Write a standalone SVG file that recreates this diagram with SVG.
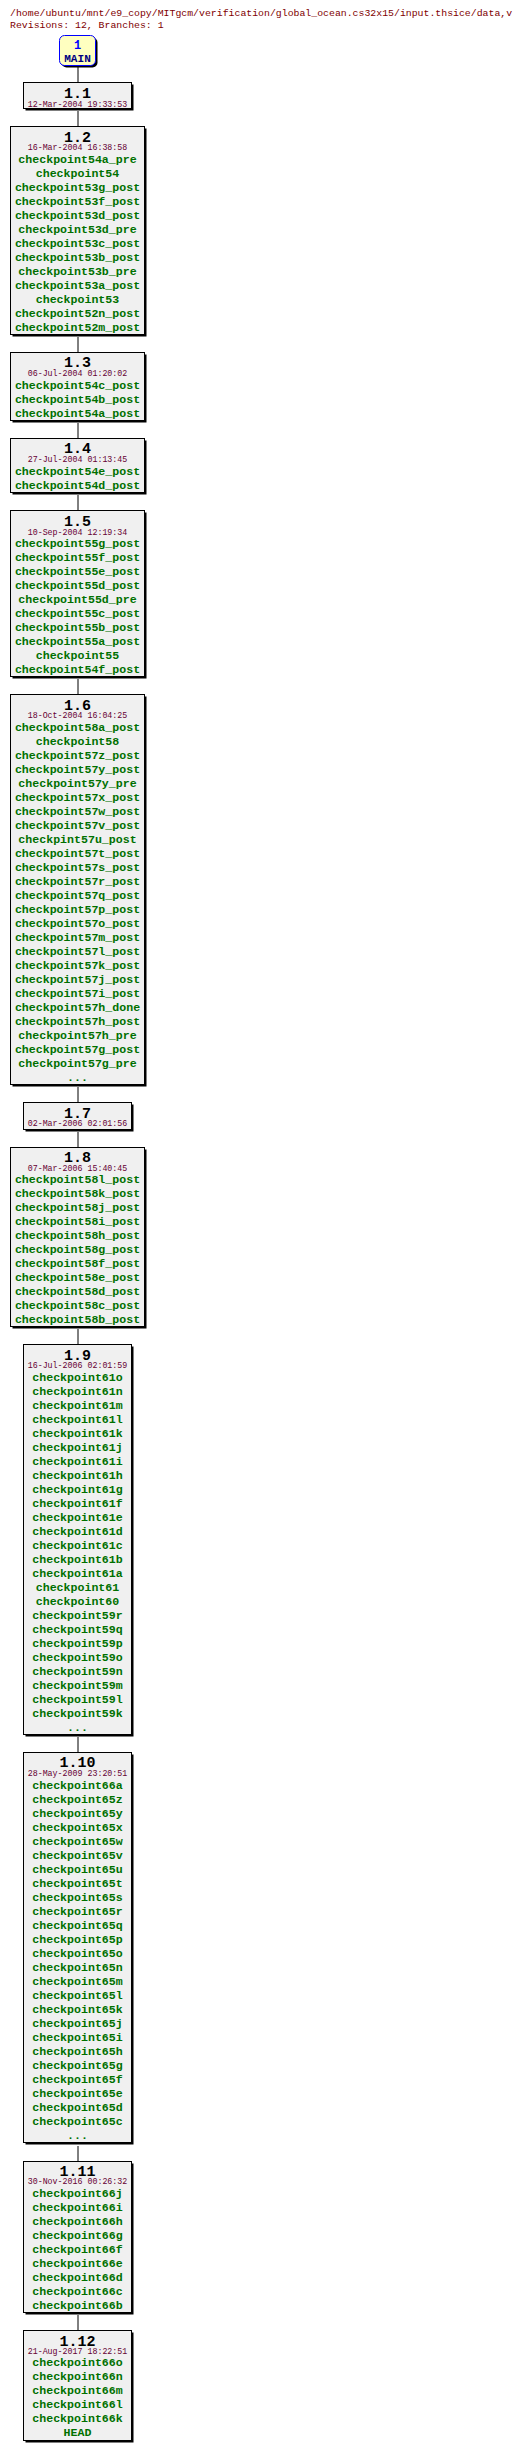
<svg xmlns="http://www.w3.org/2000/svg" width="530" height="2453" viewBox="0 0 530 2453">
<style>
.hdr{font-family:"Liberation Mono",monospace;font-size:9.85px;fill:#800000}
.box{fill:#f0f0f0;stroke:#000;stroke-width:1}
.sh{fill:#000}
.ttl{font-family:"Liberation Mono",monospace;font-size:15px;font-weight:bold;fill:#000;text-anchor:middle}
.dt{font-family:"Liberation Mono",monospace;font-size:8.3px;fill:#660033;text-anchor:middle}
.tg{font-family:"Liberation Mono",monospace;font-size:11.6px;font-weight:bold;fill:#007000;text-anchor:middle}
.ln{stroke:#000;stroke-width:1;fill:none}
</style>
<text class="hdr" x="10" y="16">/home/ubuntu/mnt/e9_copy/MITgcm/verification/global_ocean.cs32x15/input.thsice/data,v</text>
<text class="hdr" x="10" y="28">Revisions: 12, Branches: 1</text>
<g id="connectors">
<line class="ln" x1="78" y1="67" x2="78" y2="83"/>
<line class="ln" x1="78" y1="111" x2="78" y2="127"/>
<line class="ln" x1="78" y1="337" x2="78" y2="353"/>
<line class="ln" x1="78" y1="423" x2="78" y2="439"/>
<line class="ln" x1="78" y1="495" x2="78" y2="511"/>
<line class="ln" x1="78" y1="679" x2="78" y2="695"/>
<line class="ln" x1="78" y1="1087" x2="78" y2="1103"/>
<line class="ln" x1="78" y1="1132" x2="78" y2="1148"/>
<line class="ln" x1="78" y1="1329" x2="78" y2="1345"/>
<line class="ln" x1="78" y1="1737" x2="78" y2="1753"/>
<line class="ln" x1="78" y1="2146" x2="78" y2="2162"/>
<line class="ln" x1="78" y1="2315" x2="78" y2="2331"/>
</g>
<g id="MAIN">
<rect x="61.5" y="37.5" width="36" height="30" rx="5" fill="#000"/>
<rect x="59.5" y="35.5" width="36" height="30" rx="5" fill="#ffffc0" stroke="#0000ff" stroke-width="1"/>
<text x="77.5" y="48.5" style="font-family:'Liberation Mono',monospace;font-size:12px;font-weight:bold;fill:#0000ff;text-anchor:middle">1</text>
<text x="77.5" y="62" style="font-family:'Liberation Mono',monospace;font-size:11.1px;font-weight:bold;fill:#000080;text-anchor:middle">MAIN</text>
</g>
<g id="r1.1">
<rect class="sh" x="25.5" y="84.5" width="108" height="26"/>
<rect class="box" x="23.5" y="82.5" width="108" height="26"/>
<text class="ttl" x="77.5" y="98">1.1</text>
<text class="dt" x="77.5" y="107">12-Mar-2004 19:33:53</text>
</g>
<g id="r1.2">
<rect class="sh" x="12.5" y="128.5" width="134" height="208"/>
<rect class="box" x="10.5" y="126.5" width="134" height="208"/>
<text class="ttl" x="77.5" y="142">1.2</text>
<text class="dt" x="77.5" y="150">16-Mar-2004 16:38:58</text>
<text class="tg" x="77.5" y="163">checkpoint54a_pre</text>
<text class="tg" x="77.5" y="177">checkpoint54</text>
<text class="tg" x="77.5" y="191">checkpoint53g_post</text>
<text class="tg" x="77.5" y="205">checkpoint53f_post</text>
<text class="tg" x="77.5" y="219">checkpoint53d_post</text>
<text class="tg" x="77.5" y="233">checkpoint53d_pre</text>
<text class="tg" x="77.5" y="247">checkpoint53c_post</text>
<text class="tg" x="77.5" y="261">checkpoint53b_post</text>
<text class="tg" x="77.5" y="275">checkpoint53b_pre</text>
<text class="tg" x="77.5" y="289">checkpoint53a_post</text>
<text class="tg" x="77.5" y="303">checkpoint53</text>
<text class="tg" x="77.5" y="317">checkpoint52n_post</text>
<text class="tg" x="77.5" y="331">checkpoint52m_post</text>
</g>
<g id="r1.3">
<rect class="sh" x="12.5" y="354.5" width="134" height="68"/>
<rect class="box" x="10.5" y="352.5" width="134" height="68"/>
<text class="ttl" x="77.5" y="367">1.3</text>
<text class="dt" x="77.5" y="376">06-Jul-2004 01:20:02</text>
<text class="tg" x="77.5" y="389">checkpoint54c_post</text>
<text class="tg" x="77.5" y="403">checkpoint54b_post</text>
<text class="tg" x="77.5" y="417">checkpoint54a_post</text>
</g>
<g id="r1.4">
<rect class="sh" x="12.5" y="440.5" width="134" height="54"/>
<rect class="box" x="10.5" y="438.5" width="134" height="54"/>
<text class="ttl" x="77.5" y="453">1.4</text>
<text class="dt" x="77.5" y="462">27-Jul-2004 01:13:45</text>
<text class="tg" x="77.5" y="475">checkpoint54e_post</text>
<text class="tg" x="77.5" y="489">checkpoint54d_post</text>
</g>
<g id="r1.5">
<rect class="sh" x="12.5" y="512.5" width="134" height="166"/>
<rect class="box" x="10.5" y="510.5" width="134" height="166"/>
<text class="ttl" x="77.5" y="526">1.5</text>
<text class="dt" x="77.5" y="535">10-Sep-2004 12:19:34</text>
<text class="tg" x="77.5" y="547">checkpoint55g_post</text>
<text class="tg" x="77.5" y="561">checkpoint55f_post</text>
<text class="tg" x="77.5" y="575">checkpoint55e_post</text>
<text class="tg" x="77.5" y="589">checkpoint55d_post</text>
<text class="tg" x="77.5" y="603">checkpoint55d_pre</text>
<text class="tg" x="77.5" y="617">checkpoint55c_post</text>
<text class="tg" x="77.5" y="631">checkpoint55b_post</text>
<text class="tg" x="77.5" y="645">checkpoint55a_post</text>
<text class="tg" x="77.5" y="659">checkpoint55</text>
<text class="tg" x="77.5" y="673">checkpoint54f_post</text>
</g>
<g id="r1.6">
<rect class="sh" x="12.5" y="696.5" width="134" height="390"/>
<rect class="box" x="10.5" y="694.5" width="134" height="390"/>
<text class="ttl" x="77.5" y="710">1.6</text>
<text class="dt" x="77.5" y="718">18-Oct-2004 16:04:25</text>
<text class="tg" x="77.5" y="731">checkpoint58a_post</text>
<text class="tg" x="77.5" y="745">checkpoint58</text>
<text class="tg" x="77.5" y="759">checkpoint57z_post</text>
<text class="tg" x="77.5" y="773">checkpoint57y_post</text>
<text class="tg" x="77.5" y="787">checkpoint57y_pre</text>
<text class="tg" x="77.5" y="801">checkpoint57x_post</text>
<text class="tg" x="77.5" y="815">checkpoint57w_post</text>
<text class="tg" x="77.5" y="829">checkpoint57v_post</text>
<text class="tg" x="77.5" y="843">checkpint57u_post</text>
<text class="tg" x="77.5" y="857">checkpoint57t_post</text>
<text class="tg" x="77.5" y="871">checkpoint57s_post</text>
<text class="tg" x="77.5" y="885">checkpoint57r_post</text>
<text class="tg" x="77.5" y="899">checkpoint57q_post</text>
<text class="tg" x="77.5" y="913">checkpoint57p_post</text>
<text class="tg" x="77.5" y="927">checkpoint57o_post</text>
<text class="tg" x="77.5" y="941">checkpoint57m_post</text>
<text class="tg" x="77.5" y="955">checkpoint57l_post</text>
<text class="tg" x="77.5" y="969">checkpoint57k_post</text>
<text class="tg" x="77.5" y="983">checkpoint57j_post</text>
<text class="tg" x="77.5" y="997">checkpoint57i_post</text>
<text class="tg" x="77.5" y="1011">checkpoint57h_done</text>
<text class="tg" x="77.5" y="1025">checkpoint57h_post</text>
<text class="tg" x="77.5" y="1039">checkpoint57h_pre</text>
<text class="tg" x="77.5" y="1053">checkpoint57g_post</text>
<text class="tg" x="77.5" y="1067">checkpoint57g_pre</text>
<text class="tg" x="77.5" y="1081">...</text>
</g>
<g id="r1.7">
<rect class="sh" x="25.5" y="1104.5" width="108" height="27"/>
<rect class="box" x="23.5" y="1102.5" width="108" height="27"/>
<text class="ttl" x="77.5" y="1118">1.7</text>
<text class="dt" x="77.5" y="1126">02-Mar-2006 02:01:56</text>
</g>
<g id="r1.8">
<rect class="sh" x="12.5" y="1149.5" width="134" height="179"/>
<rect class="box" x="10.5" y="1147.5" width="134" height="179"/>
<text class="ttl" x="77.5" y="1162">1.8</text>
<text class="dt" x="77.5" y="1171">07-Mar-2006 15:40:45</text>
<text class="tg" x="77.5" y="1183">checkpoint58l_post</text>
<text class="tg" x="77.5" y="1197">checkpoint58k_post</text>
<text class="tg" x="77.5" y="1211">checkpoint58j_post</text>
<text class="tg" x="77.5" y="1225">checkpoint58i_post</text>
<text class="tg" x="77.5" y="1239">checkpoint58h_post</text>
<text class="tg" x="77.5" y="1253">checkpoint58g_post</text>
<text class="tg" x="77.5" y="1267">checkpoint58f_post</text>
<text class="tg" x="77.5" y="1281">checkpoint58e_post</text>
<text class="tg" x="77.5" y="1295">checkpoint58d_post</text>
<text class="tg" x="77.5" y="1309">checkpoint58c_post</text>
<text class="tg" x="77.5" y="1323">checkpoint58b_post</text>
</g>
<g id="r1.9">
<rect class="sh" x="25.5" y="1346.5" width="108" height="390"/>
<rect class="box" x="23.5" y="1344.5" width="108" height="390"/>
<text class="ttl" x="77.5" y="1360">1.9</text>
<text class="dt" x="77.5" y="1368">16-Jul-2006 02:01:59</text>
<text class="tg" x="77.5" y="1381">checkpoint61o</text>
<text class="tg" x="77.5" y="1395">checkpoint61n</text>
<text class="tg" x="77.5" y="1409">checkpoint61m</text>
<text class="tg" x="77.5" y="1423">checkpoint61l</text>
<text class="tg" x="77.5" y="1437">checkpoint61k</text>
<text class="tg" x="77.5" y="1451">checkpoint61j</text>
<text class="tg" x="77.5" y="1465">checkpoint61i</text>
<text class="tg" x="77.5" y="1479">checkpoint61h</text>
<text class="tg" x="77.5" y="1493">checkpoint61g</text>
<text class="tg" x="77.5" y="1507">checkpoint61f</text>
<text class="tg" x="77.5" y="1521">checkpoint61e</text>
<text class="tg" x="77.5" y="1535">checkpoint61d</text>
<text class="tg" x="77.5" y="1549">checkpoint61c</text>
<text class="tg" x="77.5" y="1563">checkpoint61b</text>
<text class="tg" x="77.5" y="1577">checkpoint61a</text>
<text class="tg" x="77.5" y="1591">checkpoint61</text>
<text class="tg" x="77.5" y="1605">checkpoint60</text>
<text class="tg" x="77.5" y="1619">checkpoint59r</text>
<text class="tg" x="77.5" y="1633">checkpoint59q</text>
<text class="tg" x="77.5" y="1647">checkpoint59p</text>
<text class="tg" x="77.5" y="1661">checkpoint59o</text>
<text class="tg" x="77.5" y="1675">checkpoint59n</text>
<text class="tg" x="77.5" y="1689">checkpoint59m</text>
<text class="tg" x="77.5" y="1703">checkpoint59l</text>
<text class="tg" x="77.5" y="1717">checkpoint59k</text>
<text class="tg" x="77.5" y="1731">...</text>
</g>
<g id="r1.10">
<rect class="sh" x="25.5" y="1754.5" width="108" height="390"/>
<rect class="box" x="23.5" y="1752.5" width="108" height="390"/>
<text class="ttl" x="77.5" y="1767">1.10</text>
<text class="dt" x="77.5" y="1776">28-May-2009 23:20:51</text>
<text class="tg" x="77.5" y="1789">checkpoint66a</text>
<text class="tg" x="77.5" y="1803">checkpoint65z</text>
<text class="tg" x="77.5" y="1817">checkpoint65y</text>
<text class="tg" x="77.5" y="1831">checkpoint65x</text>
<text class="tg" x="77.5" y="1845">checkpoint65w</text>
<text class="tg" x="77.5" y="1859">checkpoint65v</text>
<text class="tg" x="77.5" y="1873">checkpoint65u</text>
<text class="tg" x="77.5" y="1887">checkpoint65t</text>
<text class="tg" x="77.5" y="1901">checkpoint65s</text>
<text class="tg" x="77.5" y="1915">checkpoint65r</text>
<text class="tg" x="77.5" y="1929">checkpoint65q</text>
<text class="tg" x="77.5" y="1943">checkpoint65p</text>
<text class="tg" x="77.5" y="1957">checkpoint65o</text>
<text class="tg" x="77.5" y="1971">checkpoint65n</text>
<text class="tg" x="77.5" y="1985">checkpoint65m</text>
<text class="tg" x="77.5" y="1999">checkpoint65l</text>
<text class="tg" x="77.5" y="2013">checkpoint65k</text>
<text class="tg" x="77.5" y="2027">checkpoint65j</text>
<text class="tg" x="77.5" y="2041">checkpoint65i</text>
<text class="tg" x="77.5" y="2055">checkpoint65h</text>
<text class="tg" x="77.5" y="2069">checkpoint65g</text>
<text class="tg" x="77.5" y="2083">checkpoint65f</text>
<text class="tg" x="77.5" y="2097">checkpoint65e</text>
<text class="tg" x="77.5" y="2111">checkpoint65d</text>
<text class="tg" x="77.5" y="2125">checkpoint65c</text>
<text class="tg" x="77.5" y="2139">...</text>
</g>
<g id="r1.11">
<rect class="sh" x="25.5" y="2163.5" width="108" height="151"/>
<rect class="box" x="23.5" y="2161.5" width="108" height="151"/>
<text class="ttl" x="77.5" y="2176">1.11</text>
<text class="dt" x="77.5" y="2184">30-Nov-2016 00:26:32</text>
<text class="tg" x="77.5" y="2197">checkpoint66j</text>
<text class="tg" x="77.5" y="2211">checkpoint66i</text>
<text class="tg" x="77.5" y="2225">checkpoint66h</text>
<text class="tg" x="77.5" y="2239">checkpoint66g</text>
<text class="tg" x="77.5" y="2253">checkpoint66f</text>
<text class="tg" x="77.5" y="2267">checkpoint66e</text>
<text class="tg" x="77.5" y="2281">checkpoint66d</text>
<text class="tg" x="77.5" y="2295">checkpoint66c</text>
<text class="tg" x="77.5" y="2309">checkpoint66b</text>
</g>
<g id="r1.12">
<rect class="sh" x="25.5" y="2332.5" width="108" height="110"/>
<rect class="box" x="23.5" y="2330.5" width="108" height="110"/>
<text class="ttl" x="77.5" y="2346">1.12</text>
<text class="dt" x="77.5" y="2354">21-Aug-2017 18:22:51</text>
<text class="tg" x="77.5" y="2366">checkpoint66o</text>
<text class="tg" x="77.5" y="2380">checkpoint66n</text>
<text class="tg" x="77.5" y="2394">checkpoint66m</text>
<text class="tg" x="77.5" y="2408">checkpoint66l</text>
<text class="tg" x="77.5" y="2422">checkpoint66k</text>
<text class="tg" x="77.5" y="2436">HEAD</text>
</g>
</svg>
